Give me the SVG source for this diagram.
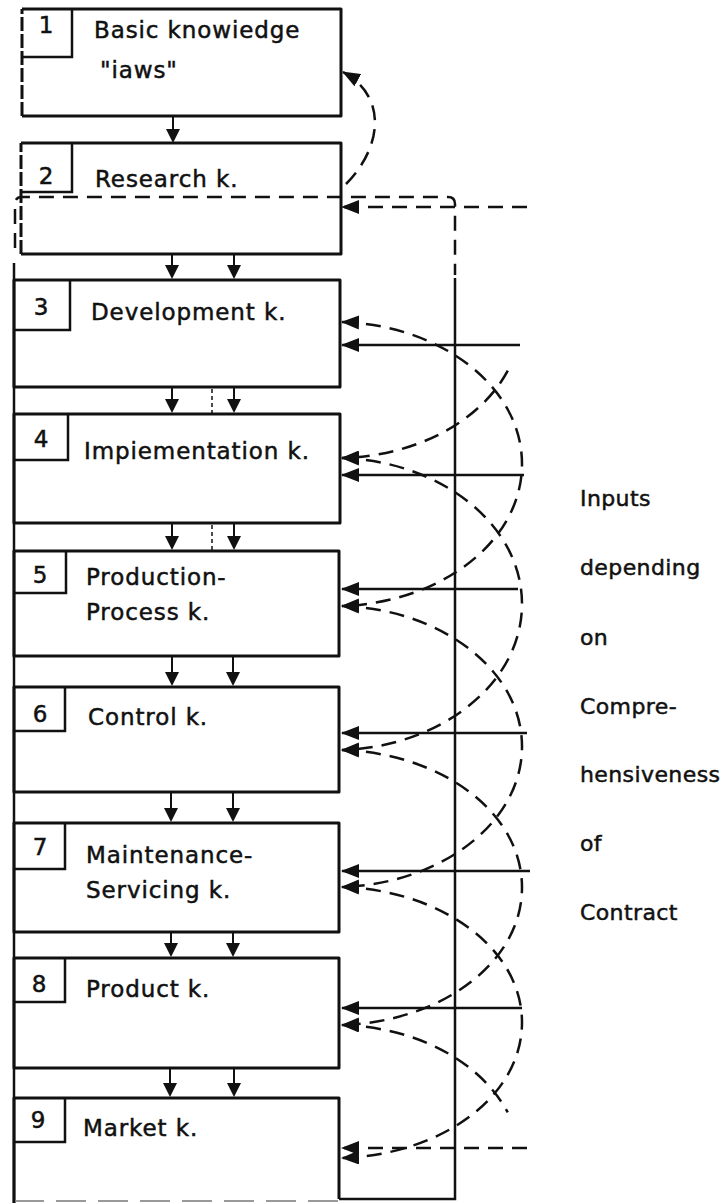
<svg xmlns="http://www.w3.org/2000/svg" xmlns:xlink="http://www.w3.org/1999/xlink" width="726" height="1203" viewBox="0 0 726 1203">
<style>
.box{fill:none;stroke:#111;stroke-width:3;stroke-linejoin:round}
.nb{fill:none;stroke:#111;stroke-width:2.5}
.t{font-family:"DejaVu Sans","Liberation Sans",sans-serif;font-size:23px;fill:#111;stroke:#111;stroke-width:0.5;letter-spacing:0.9px}
.n{text-anchor:middle;letter-spacing:0}
.r{font-size:22px;letter-spacing:0.4px}
.solid{fill:none;stroke:#111;stroke-width:2.5}
.dash{fill:none;stroke:#111;stroke-width:2.5;stroke-dasharray:15 9}
.thin{fill:none;stroke:#111;stroke-width:1.5;stroke-dasharray:4 3}
.stem{stroke:#111;stroke-width:2}
.tri{fill:#111}
</style>
<defs>
<marker id="ah" markerUnits="userSpaceOnUse" markerWidth="18" markerHeight="14" viewBox="0 0 18 14" refX="17" refY="7" orient="auto-start-reverse">
<path d="M0,0 L18,7 L0,14 Z" fill="#111"/>
</marker>
<path id="tri" class="tri" d="M-7,-14 L7,-14 L0,0 Z"/>
</defs>

<g id="node1">
<path class="box" d="M22,116 L22,9" stroke-dasharray="14 3"/>
<path class="box" d="M22,116 L341,116 L341,9 L22,9"/>
<path class="nb" d="M72,9 L72,57 L22,57"/>
<text class="t n" x="46" y="33">1</text>
<text class="t" x="94" y="38">Basic knowiedge</text>
<text class="t" x="100" y="78">"iaws"</text>
</g>

<g id="node2">
<path class="box" d="M21,254 L21,143" stroke-dasharray="14 3"/>
<path class="box" d="M21,254 L341,254 L341,143 L21,143"/>
<path class="nb" d="M72,143 L72,192 L21,192"/>
<text class="t n" x="46" y="184">2</text>
<text class="t" x="95" y="187">Research k.</text>
</g>

<g id="node3">
<rect class="box" x="14" y="280" width="326" height="107"/>
<path class="nb" d="M70,280 L70,330 L14,330"/>
<text class="t n" x="41" y="315">3</text>
<text class="t" x="91" y="320">Development k.</text>
</g>

<g id="node4">
<rect class="box" x="14" y="414" width="326" height="109"/>
<path class="nb" d="M68,414 L68,460 L14,460"/>
<text class="t n" x="41" y="447">4</text>
<text class="t" x="84" y="459">Impiementation k.</text>
</g>

<g id="node5">
<rect class="box" x="14" y="551" width="325" height="105"/>
<path class="nb" d="M66,551 L66,593 L14,593"/>
<text class="t n" x="40" y="583">5</text>
<text class="t" x="86" y="585">Production-</text>
<text class="t" x="86" y="620">Process k.</text>
</g>

<g id="node6">
<rect class="box" x="14" y="687" width="325" height="105"/>
<path class="nb" d="M65,687 L65,731 L14,731"/>
<text class="t n" x="40" y="722">6</text>
<text class="t" x="88" y="725">Control k.</text>
</g>

<g id="node7">
<rect class="box" x="14" y="823" width="325" height="109"/>
<path class="nb" d="M65,823 L65,869 L14,869"/>
<text class="t n" x="40" y="855">7</text>
<text class="t" x="86" y="863">Maintenance-</text>
<text class="t" x="86" y="898">Servicing k.</text>
</g>

<g id="node8">
<rect class="box" x="14" y="958" width="325" height="110"/>
<path class="nb" d="M65,958 L65,1002 L14,1002"/>
<text class="t n" x="39" y="992">8</text>
<text class="t" x="86" y="997">Product k.</text>
</g>

<g id="node9">
<path class="box" d="M14,1203 L14,1098 L339,1098 L339,1199"/>
<path d="M14,1201 L339,1201" stroke="#999" stroke-width="2" stroke-dasharray="30 12"/>
<path class="nb" d="M65,1098 L65,1142 L14,1142"/>
<text class="t n" x="38" y="1128">9</text>
<text class="t" x="83" y="1136">Market k.</text>
</g>

<g id="inputs-label">
<text class="t r" x="580" y="506">Inputs</text>
<text class="t r" x="580" y="575">depending</text>
<text class="t r" x="580" y="645">on</text>
<text class="t r" x="580" y="714">Compre-</text>
<text class="t r" x="580" y="782">hensiveness</text>
<text class="t r" x="580" y="851">of</text>
<text class="t r" x="580" y="920">Contract</text>
</g>

<g id="connectors">
<path class="dash" d="M15,248 L15,204 Q15,197 22,197 L448,197 Q455,197 455,204 L455,275" stroke-dasharray="14 8"/>
<path class="solid" d="M455,278 L455,1199 L339,1199" stroke-width="3"/>
<path class="solid" d="M14,263 L14,1203" stroke-width="3"/>

<line class="stem" x1="173" y1="116" x2="173" y2="130"/><use xlink:href="#tri" x="173" y="143"/>
<line class="stem" x1="172" y1="254" x2="172" y2="266"/><use xlink:href="#tri" x="172" y="279"/>
<line class="stem" x1="234" y1="254" x2="234" y2="266"/><use xlink:href="#tri" x="234" y="279"/>
<line class="stem" x1="172" y1="387" x2="172" y2="400"/><use xlink:href="#tri" x="172" y="413"/>
<line class="stem" x1="234" y1="387" x2="234" y2="400"/><use xlink:href="#tri" x="234" y="413"/>
<line class="thin" x1="212" y1="389" x2="212" y2="413"/>
<line class="stem" x1="172" y1="523" x2="172" y2="537"/><use xlink:href="#tri" x="172" y="550"/>
<line class="stem" x1="234" y1="523" x2="234" y2="537"/><use xlink:href="#tri" x="234" y="550"/>
<line class="thin" x1="212" y1="525" x2="212" y2="550"/>
<line class="stem" x1="172" y1="656" x2="172" y2="673"/><use xlink:href="#tri" x="172" y="686"/>
<line class="stem" x1="233" y1="656" x2="233" y2="673"/><use xlink:href="#tri" x="233" y="686"/>
<line class="stem" x1="171" y1="792" x2="171" y2="809"/><use xlink:href="#tri" x="171" y="822"/>
<line class="stem" x1="233" y1="792" x2="233" y2="809"/><use xlink:href="#tri" x="233" y="822"/>
<line class="stem" x1="171" y1="932" x2="171" y2="944"/><use xlink:href="#tri" x="171" y="957"/>
<line class="stem" x1="233" y1="932" x2="233" y2="944"/><use xlink:href="#tri" x="233" y="957"/>
<line class="stem" x1="170" y1="1068" x2="170" y2="1084"/><use xlink:href="#tri" x="170" y="1097"/>
<line class="stem" x1="234" y1="1068" x2="234" y2="1084"/><use xlink:href="#tri" x="234" y="1097"/>

<path class="dash" d="M346,184 C380,150 390,98 343,72" stroke-dasharray="13 8" marker-end="url(#ah)"/>
<path class="dash" d="M527,207 L342,207" stroke-dasharray="22 12" marker-end="url(#ah)"/>

<path class="solid" d="M520,345 L342,345" marker-end="url(#ah)"/>
<path class="solid" d="M524,475 L342,475" marker-end="url(#ah)"/>
<path class="solid" d="M518,589 L342,589" marker-end="url(#ah)"/>
<path class="solid" d="M527,733 L342,733" marker-end="url(#ah)"/>
<path class="solid" d="M530,871 L342,871" marker-end="url(#ah)"/>
<path class="solid" d="M522,1008 L342,1008" marker-end="url(#ah)"/>
<path class="dash" d="M527,1148 L342,1148" stroke-dasharray="20 12" marker-end="url(#ah)"/>

<path class="dash" d="M507.8,370.7 C480.6,420.9 418,455.75 342,458" marker-end="url(#ah)"/>
<path class="dash" d="M342,322 C440,325 522,386 522,464 C522,542 440,603 342,606" marker-start="url(#ah)" marker-end="url(#ah)"/>
<path class="dash" d="M342,458 C440,461 522,524 522,604 C522,684 440,747 342,750" marker-start="url(#ah)" marker-end="url(#ah)"/>
<path class="dash" d="M342,606 C440,609 522,669.5 522,746.5 C522,823.5 440,884 342,887" marker-start="url(#ah)" marker-end="url(#ah)"/>
<path class="dash" d="M342,750 C440,753 522,811.5 522,887.5 C522,963.5 440,1022 342,1025" marker-start="url(#ah)" marker-end="url(#ah)"/>
<path class="dash" d="M342,887 C440,890 522,947.5 522,1022.5 C522,1097.5 440,1155 342,1158" marker-start="url(#ah)" marker-end="url(#ah)"/>
<path class="dash" d="M342,1025 C418,1027.25 480.6,1062.1 507.8,1112.4" marker-start="url(#ah)"/>
</g>
</svg>
